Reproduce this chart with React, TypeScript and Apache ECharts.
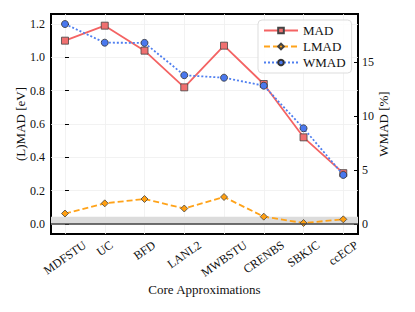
import React, { useEffect, useRef } from "react";
import * as echarts from "echarts";

const categories = ["MDFSTU", "UC", "BFD", "LANL2", "MWBSTU", "CRENBS", "SBKJC", "ccECP"];
const madValues = [1.10, 1.19, 1.04, 0.82, 1.07, 0.84, 0.52, 0.305];
const lmadValues = [0.063, 0.124, 0.15, 0.093, 0.162, 0.044, 0.006, 0.028];
const wmadValues = [18.55, 16.82, 16.8, 13.8, 13.57, 12.83, 8.88, 4.55];
const leftTicks = [0, 0.2, 0.4, 0.6, 0.8, 1.0, 1.2];
const rightTicks = [0, 5, 10, 15];
const chemicalAccuracy = 0.0434;

const FONT = "'Liberation Serif', 'DejaVu Serif', serif";
const LABEL_ANGLE = 35;

export default function App() {
  const ref = useRef<HTMLDivElement>(null);
  useEffect(() => {
    if (!ref.current) return;
    const chart = echarts.init(ref.current, null, { renderer: "svg" });
    const idx = categories.map((_, i) => i);
    const toPairs = (arr: number[]) => arr.map((v, i) => [i, v]);
    chart.setOption({
      animation: false,
      textStyle: { fontFamily: FONT },
      grid: {
        left: 51,
        top: 14,
        width: 307,
        height: 220,
        show: true,
        borderColor: "#000",
        borderWidth: 2,
        backgroundColor: "transparent",
      },
      legend: {
        orient: "vertical",
        left: 258,
        top: 20,
        padding: [4, 6, 4, 5],
        itemWidth: 34,
        itemHeight: 7,
        itemGap: 3,
        backgroundColor: "rgba(255,255,255,0.85)",
        borderColor: "#dddddd",
        borderWidth: 1,
        borderRadius: 4,
        textStyle: { fontFamily: FONT, fontSize: 13, color: "#111", padding: [1, 0, 0, 0] },
        data: ["MAD", "LMAD", "WMAD"],
      },
      xAxis: {
        type: "value",
        min: -0.352,
        max: 7.37,
        axisLine: { show: false },
        axisTick: {
          show: true,
          inside: true,
          length: 4,
          lineStyle: { color: "#000", width: 1 },
          customValues: idx,
        },
        axisLabel: { show: false, customValues: idx },
        splitLine: { show: true, lineStyle: { color: "#efefef", width: 0.8 } },
        name: "Core Approximations",
        nameLocation: "middle",
        nameGap: 49,
        nameMoveOverlap: false,
        nameTextStyle: { fontSize: 13, color: "#111", fontFamily: FONT },
      },
      yAxis: [
        {
          type: "value",
          min: -0.06,
          max: 1.26,
          axisLine: { show: false },
          axisTick: {
            show: true,
            inside: true,
            length: 4,
            lineStyle: { color: "#000", width: 1 },
            customValues: leftTicks,
          },
          axisLabel: {
            customValues: leftTicks,
            formatter: (v: number) => v.toFixed(1),
            fontSize: 12,
            margin: 6,
            color: "#111",
            fontFamily: FONT,
          },
          splitLine: { show: true, lineStyle: { color: "#efefef", width: 0.8 } },
          name: "(L)MAD [eV]",
          nameLocation: "middle",
          nameGap: 24.5,
          nameMoveOverlap: false,
          nameRotate: 90,
          nameTextStyle: { fontSize: 13, color: "#111", fontFamily: FONT },
        },
        {
          type: "value",
          position: "right",
          min: -0.928,
          max: 19.48,
          axisLine: { show: false },
          axisTick: {
            show: true,
            inside: true,
            length: 4,
            lineStyle: { color: "#000", width: 1 },
            customValues: rightTicks,
          },
          axisLabel: {
            customValues: rightTicks,
            fontSize: 12,
            margin: 4,
            color: "#111",
            fontFamily: FONT,
          },
          splitLine: { show: false },
          name: "WMAD [%]",
          nameLocation: "middle",
          nameGap: 19,
          nameMoveOverlap: false,
          nameRotate: 90,
          nameTextStyle: { fontSize: 13, color: "#111", fontFamily: FONT },
        },
      ],
      series: [
        {
          name: "MAD",
          type: "line",
          yAxisIndex: 0,
          data: toPairs(madValues),
          symbol: "rect",
          symbolSize: 7,
          lineStyle: { color: "#f46363", width: 1.8, type: "solid" },
          itemStyle: { color: "#f07070", borderColor: "#444", borderWidth: 0.8 },
          z: 3,
          markArea: {
            silent: true,
            itemStyle: { color: "#dcdcdc" },
            data: [[{ yAxis: 0 }, { yAxis: chemicalAccuracy }]],
          },
          markLine: {
            silent: true,
            symbol: "none",
            label: { show: false },
            lineStyle: { color: "#444", width: 1.5, type: "solid" },
            data: [{ yAxis: 0 }],
          },
        },
        {
          name: "LMAD",
          type: "line",
          yAxisIndex: 0,
          data: toPairs(lmadValues),
          symbol: "diamond",
          symbolSize: 7,
          lineStyle: { color: "#ffa31a", width: 1.8, type: [6, 3] },
          itemStyle: { color: "#ff9f10", borderColor: "#444", borderWidth: 0.8 },
          z: 3,
        },
        {
          name: "WMAD",
          type: "line",
          yAxisIndex: 1,
          data: toPairs(wmadValues),
          symbol: "circle",
          symbolSize: 7,
          lineStyle: { color: "#4f7ff0", width: 1.8, type: [2, 2] },
          itemStyle: { color: "#4a78ee", borderColor: "#333", borderWidth: 0.8 },
          z: 4,
        },
      ],
    });

    // Rotated category labels, centred under each tick like matplotlib (ha=center)
    const canvas = document.createElement("canvas");
    const ctx = canvas.getContext("2d");
    const fontSize = 12;
    if (ctx) ctx.font = `${fontSize}px 'Liberation Serif'`;
    const theta = (LABEL_ANGLE * Math.PI) / 180;
    const h = fontSize * 0.95;
    const labels = categories.map((c, i) => {
      const p = chart.convertToPixel({ xAxisIndex: 0, yAxisIndex: 0 }, [i, -0.06]) as number[];
      const w = ctx ? ctx.measureText(c).width : c.length * 7;
      const top = p[1] + 5;
      const cy = top + (w * Math.sin(theta) + h * Math.cos(theta)) / 2;
      return {
        type: "text",
        x: p[0],
        y: cy,
        rotation: theta,
        silent: true,
        style: {
          text: c,
          fill: "#111",
          font: `${fontSize}px ${FONT}`,
          align: "center",
          verticalAlign: "middle",
        },
      };
    });
    chart.setOption({ graphic: labels });
    return () => chart.dispose();
  }, []);
  return <div ref={ref} style={{ width: 415, height: 312, margin: -8 }} />;
}
